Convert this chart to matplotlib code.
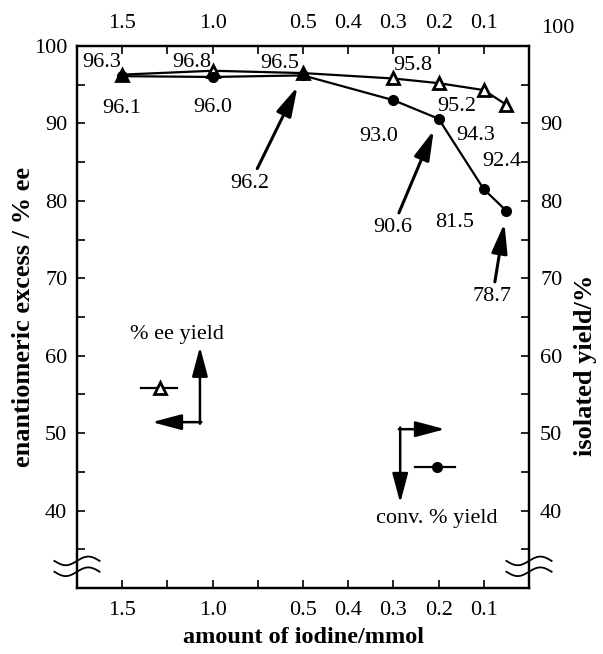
import numpy as np
import matplotlib
matplotlib.use("Agg")
import matplotlib.pyplot as plt

plt.rcParams['font.family'] = ['Liberation Serif', 'DejaVu Serif']
plt.rcParams['font.size'] = 16

# data
iodine = [1.5, 1.0, 0.5, 0.3, 0.2, 0.1, 0.05]
ee = [96.3, 96.8, 96.5, 95.8, 95.2, 94.3, 92.4]
yld = [96.1, 96.0, 96.2, 93.0, 90.6, 81.5, 78.7]
xticks = [1.5, 1.25, 1.0, 0.75, 0.5, 0.4, 0.3, 0.2, 0.1]
xticklabels = ['1.5', '', '1.0', '', '0.5', '0.4', '0.3', '0.2', '0.1']
yticks = [35, 40, 45, 50, 55, 60, 65, 70, 75, 80, 85, 90, 95, 100]
ylabs = ['', '40', '', '50', '', '60', '', '70', '', '80', '', '90', '', '100']

# label offsets in pixels (text placement only)
ee_off = [(-21, 12), (-21, 8), (-23, 10), (19, 13), (18, -23), (-8, -45), (-5, -57)]
yld_off = [(0, -32), (0, -31), (-53, -108), (-15, -36), (-46, -109), (-29, -33), (-14, -86)]
yld_arrow = [False, False, True, False, True, False, True]


# piecewise linear scale: 0.25/step above 0.5, 0.1/step below
def fwd(x):
    x = np.asarray(x, dtype=float)
    return np.where(x <= 0.5, x * 10, 5 + (x - 0.5) * 4)


def inv(t):
    t = np.asarray(t, dtype=float)
    return np.where(t <= 5, t / 10, 0.5 + (t - 5) / 4)


fig = plt.figure(figsize=(6.03, 6.54), dpi=100)
ax = fig.add_axes([0.1277, 0.1009, 0.7496, 0.8288])
ax.set_xscale('function', functions=(fwd, inv))
ax.set_xlim(1.75, 0.0)
ax.set_ylim(30, 100)
ax2 = ax.twinx()
ax2.set_ylim(30, 100)

ax.plot(iodine, ee, color='k', lw=1.6, marker='^', ms=9, mfc='white',
        mec='k', mew=2, zorder=3)
ax2.plot(iodine, yld, color='k', lw=1.6, marker='o', ms=7, mfc='k',
         mec='k', zorder=3)

for x, v, (dx, dy) in zip(iodine, ee, ee_off):
    ax.annotate('%.1f' % v, xy=(x, v), xytext=(dx, dy), textcoords='offset pixels',
                ha='center', va='center')

aprops = dict(arrowstyle='-|>,head_length=1.2,head_width=0.32', color='k', lw=2.2,
              mutation_scale=15, shrinkA=2, shrinkB=9)
for x, v, (dx, dy), arr in zip(iodine, yld, yld_off, yld_arrow):
    ax2.annotate('%.1f' % v, xy=(x, v), xytext=(dx, dy), textcoords='offset pixels',
                 ha='center', va='center', arrowprops=aprops if arr else None)

# axes styling
ax.set_xticks(xticks)
ax.set_xticklabels(xticklabels)
ax.set_yticks(yticks)
ax.set_yticklabels(ylabs)
ax2.set_yticks(yticks)
ax2.set_yticklabels(ylabs[:-1] + [''])
ax.xaxis.set_minor_locator(matplotlib.ticker.NullLocator())
ax.tick_params(axis='x', direction='in', length=6, width=1.2, top=True,
               labeltop=True, pad=9)
ax.tick_params(axis='y', direction='in', length=6, width=1.2, pad=7)
ax2.tick_params(axis='y', direction='in', length=6, width=1.2, pad=8)
for a in (ax, ax2):
    for s in a.spines.values():
        s.set_linewidth(1.6)
ax2.text(1.064, 1.033, '100', transform=ax.transAxes, ha='center', va='center')

ax.set_xlabel('amount of iodine/mmol', fontweight='bold', fontsize=17.5)
ax.xaxis.set_label_coords(0.5, -0.072)
ax.set_ylabel('enantiomeric excess / % ee', fontweight='bold', fontsize=19)
ax.yaxis.set_label_coords(-0.094, 0.5)
ax2.set_ylabel('isolated yield/%', fontweight='bold', fontsize=19)
ax2.yaxis.set_label_coords(1.10, 0.411)

# axis break squiggles
sx = np.linspace(-0.05, 0.05, 60)
for xc in (0.0, 1.0):
    for yc in (0.050, 0.030):
        ax.plot(xc + sx, yc + 0.008 * np.sin(sx / 0.05 * np.pi), color='k', lw=1.3,
                transform=ax.transAxes, clip_on=False)

# legend keys
larrow = dict(arrowstyle='-|>,head_length=1.2,head_width=0.32', color='k', lw=1.8,
              mutation_scale=15, shrinkA=0, shrinkB=0)
ax.plot([0.142, 0.221], [0.369, 0.369], color='k', lw=1.6, transform=ax.transAxes)
ax.plot([0.184], [0.369], marker='^', ms=9, mfc='white', mec='k', mew=2,
        transform=ax.transAxes)
ax.text(0.221, 0.467, '% ee yield', transform=ax.transAxes, ha='center', va='center')
ax.annotate('', xy=(0.272, 0.445), xytext=(0.272, 0.303), xycoords='axes fraction',
            arrowprops=larrow)
ax.annotate('', xy=(0.166, 0.306), xytext=(0.275, 0.306), xycoords='axes fraction',
            arrowprops=larrow)

ax.plot([0.748, 0.836], [0.223, 0.223], color='k', lw=1.6, transform=ax.transAxes)
ax.plot([0.796], [0.223], marker='o', ms=7, color='k', transform=ax.transAxes)
ax.text(0.796, 0.129, 'conv. % yield', transform=ax.transAxes, ha='center', va='center')
ax.annotate('', xy=(0.814, 0.293), xytext=(0.712, 0.293), xycoords='axes fraction',
            arrowprops=larrow)
ax.annotate('', xy=(0.715, 0.157), xytext=(0.715, 0.296), xycoords='axes fraction',
            arrowprops=larrow)

fig.savefig('out.png', dpi=100)
